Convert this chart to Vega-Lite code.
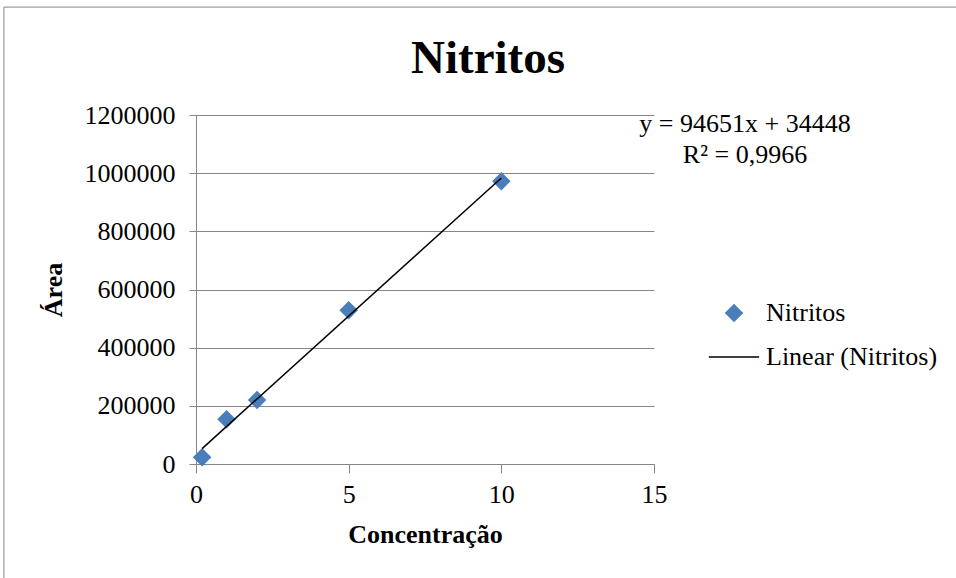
{
  "$schema": "https://vega.github.io/schema/vega-lite/v6.json",
  "width": 458,
  "height": 349,
  "autosize": "none",
  "padding": {"left": 196, "top": 115, "right": 302, "bottom": 114},
  "background": "white",
  "config": {
    "font": "Liberation Serif",
    "view": {"stroke": null},
    "axis": {
      "labelFont": "Liberation Serif",
      "labelFontSize": 26,
      "labelColor": "black",
      "titleFont": "Liberation Serif",
      "titleFontSize": 26,
      "titleFontWeight": "bold",
      "titleColor": "black",
      "domainColor": "#868686",
      "tickColor": "#868686",
      "gridColor": "#868686",
      "gridOpacity": 1,
      "domainWidth": 1,
      "tickWidth": 1,
      "gridWidth": 1
    },
    "legend": {
      "orient": "none",
      "legendX": 525,
      "legendY": 185,
      "padding": 0,
      "labelFont": "Liberation Serif",
      "labelFontSize": 26,
      "labelColor": "black",
      "labelOffset": 19,
      "labelLimit": 400,
      "rowPadding": 18,
      "symbolSize": 270,
      "symbolStrokeWidth": 1.5,
      "symbolOpacity": 1
    }
  },
  "title": {
    "text": "Nitritos",
    "font": "Liberation Serif",
    "fontSize": 47,
    "fontWeight": "bold",
    "color": "black",
    "anchor": "middle",
    "dx": 63,
    "offset": -76
  },
  "data": {
    "values": [
      {"series": "Nitritos", "conc": 0.2, "area": 23000},
      {"series": "Nitritos", "conc": 1, "area": 154000},
      {"series": "Nitritos", "conc": 2, "area": 220000},
      {"series": "Nitritos", "conc": 5, "area": 528600},
      {"series": "Nitritos", "conc": 10, "area": 972400}
    ]
  },
  "layer": [
    {
      "data": {"values": [{"frame": "border"}]},
      "mark": {"type": "rect", "fill": null, "stroke": "#868686", "strokeWidth": 1},
      "encoding": {
        "x": {"datum": -6.29, "type": "quantitative", "scale": {"domain": [0, 15], "nice": false}},
        "x2": {"datum": 26},
        "y": {"datum": 1571000, "type": "quantitative", "scale": {"domain": [0, 1200000], "nice": false}},
        "y2": {"datum": -400000}
      }
    },
    {
      "mark": {"type": "point", "filled": true, "size": 270, "opacity": 1, "strokeWidth": 1.5},
      "encoding": {
        "x": {
          "field": "conc", "type": "quantitative",
          "scale": {"domain": [0, 15], "nice": false},
          "axis": {"values": [0, 5, 10, 15], "grid": false, "tickSize": 9, "labelPadding": 8, "title": "Concentração", "titlePadding": 14, "labelFlush": false}
        },
        "y": {
          "field": "area", "type": "quantitative",
          "scale": {"domain": [0, 1200000], "nice": false},
          "axis": {"values": [0, 200000, 400000, 600000, 800000, 1000000, 1200000], "format": "d", "grid": true, "tickSize": 7, "labelPadding": 14, "title": "Área", "titlePadding": 18}
        },
        "color": {
          "field": "series", "type": "nominal",
          "scale": {"domain": ["Nitritos", "Linear (Nitritos)"], "range": ["#4a7ebb", "#000000"]},
          "legend": {"title": null}
        },
        "stroke": {
          "field": "series", "type": "nominal",
          "scale": {"domain": ["Nitritos", "Linear (Nitritos)"], "range": ["#4a7ebb", "#000000"]},
          "legend": {"title": null}
        },
        "shape": {
          "field": "series", "type": "nominal",
          "scale": {"domain": ["Nitritos", "Linear (Nitritos)"], "range": ["diamond", "M-3.06,0H3.06"]},
          "legend": {"title": null}
        }
      }
    },
    {
      "transform": [{"regression": "area", "on": "conc"}],
      "mark": {"type": "line", "strokeWidth": 1.5, "color": "#000000"},
      "encoding": {
        "x": {"field": "conc", "type": "quantitative"},
        "y": {"field": "area", "type": "quantitative"}
      }
    },
    {
      "data": {"values": [{"label": "equation"}]},
      "mark": {
        "type": "text",
        "text": ["y = 94651x + 34448", "R² = 0,9966"],
        "font": "Liberation Serif",
        "fontSize": 26,
        "color": "black",
        "align": "center",
        "baseline": "top",
        "lineHeight": 31
      },
      "encoding": {
        "x": {"datum": 17.98, "type": "quantitative"},
        "y": {"datum": 1213750, "type": "quantitative"}
      }
    }
  ]
}
